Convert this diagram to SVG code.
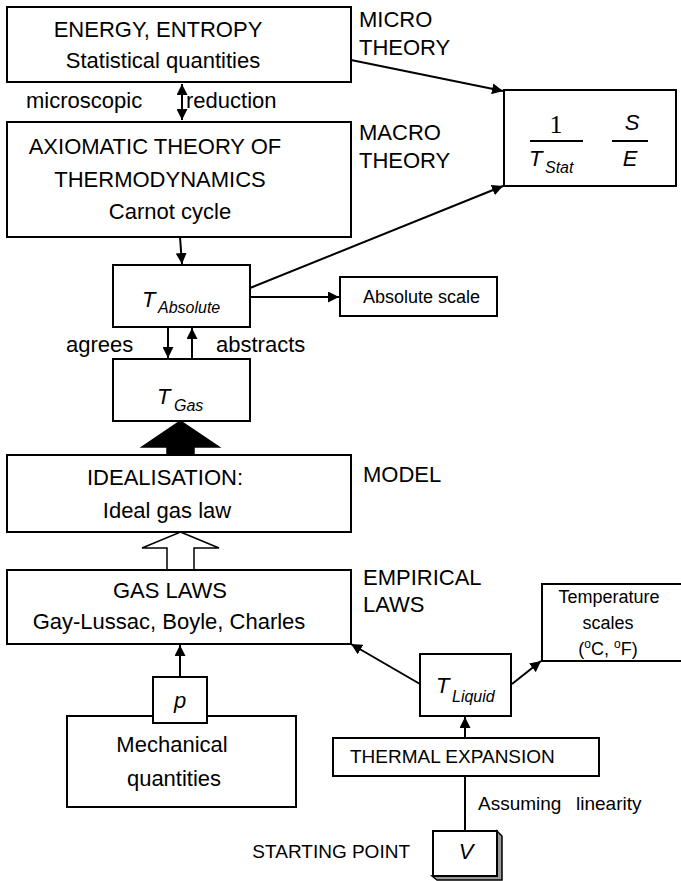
<svg xmlns="http://www.w3.org/2000/svg" width="681" height="881" viewBox="0 0 681 881">
<defs>
<style>
text{font-family:"Liberation Sans",Arial,sans-serif;font-size:22px;fill:#000}
.box{fill:#fff;stroke:#000;stroke-width:2}
.ln{fill:none;stroke:#000;stroke-width:2}
.m{text-anchor:middle}
.i{font-style:italic}
.sub{font-size:16px;font-style:italic}
.s19{font-size:19px}
.s18{font-size:18px}
.serif{font-family:"Liberation Serif","Times New Roman",serif;font-size:26px}
</style>
<marker id="ah" viewBox="0 0 10 10" refX="10" refY="5" markerWidth="11" markerHeight="11" markerUnits="userSpaceOnUse" orient="auto-start-reverse">
<path d="M0,0 L10,5 L0,10 z" fill="#000"/>
</marker>
</defs>
<rect width="681" height="881" fill="#fff"/>

<g id="connectors">
<line class="ln" x1="182" y1="84" x2="182" y2="120" marker-start="url(#ah)" marker-end="url(#ah)"/>
<line class="ln" x1="351" y1="60" x2="503" y2="91" marker-end="url(#ah)"/>
<line class="ln" x1="180" y1="237" x2="182" y2="264" marker-end="url(#ah)"/>
<line class="ln" x1="250" y1="288" x2="503" y2="186" marker-end="url(#ah)"/>
<line class="ln" x1="250" y1="297" x2="339" y2="297" marker-end="url(#ah)"/>
<line class="ln" x1="168" y1="327" x2="168" y2="358" marker-end="url(#ah)"/>
<line class="ln" x1="192" y1="359" x2="192" y2="328" marker-end="url(#ah)"/>
<polygon points="180.5,421 219,447 194,447 194,455 167,455 167,447 142,447" fill="#000" stroke="#000" stroke-width="1.5"/>
<polygon points="180.5,532 219,548 194,548 194,570 167,570 167,548 142,548" fill="#fff" stroke="#000" stroke-width="1.5"/>
<line class="ln" x1="180" y1="677" x2="180" y2="645" marker-end="url(#ah)"/>
<line class="ln" x1="420" y1="684" x2="351" y2="644" marker-end="url(#ah)"/>
<line class="ln" x1="512" y1="684" x2="541" y2="661" marker-end="url(#ah)"/>
<line class="ln" x1="465" y1="738" x2="465" y2="717" marker-end="url(#ah)"/>
<line class="ln" x1="465" y1="776" x2="465" y2="831"/>
</g>

<g id="energy">
<rect class="box" x="7" y="7" width="344" height="75"/>
<text class="m" x="158" y="37">ENERGY, ENTROPY</text>
<text class="m" x="163" y="68">Statistical quantities</text>
</g>
<g id="micro-label">
<text x="359" y="27">MICRO</text>
<text x="359" y="55">THEORY</text>
</g>
<g id="reduction-labels">
<text x="26" y="108">microscopic</text>
<text x="186" y="108">reduction</text>
</g>
<g id="axiomatic">
<rect class="box" x="7" y="122" width="344" height="115"/>
<text class="m" x="155" y="154">AXIOMATIC THEORY OF</text>
<text class="m" x="160" y="187">THERMODYNAMICS</text>
<text class="m" x="170" y="219">Carnot cycle</text>
</g>
<g id="macro-label">
<text x="359" y="140">MACRO</text>
<text x="359" y="168">THEORY</text>
</g>
<g id="stat">
<rect class="box" x="504" y="90" width="172" height="96"/>
<text class="m serif" x="556" y="133">1</text>
<line class="ln" x1="530" y1="141" x2="583" y2="141" stroke-width="1.5"/>
<text class="i" x="529" y="166">T</text>
<text class="sub" x="545" y="173">Stat</text>
<text class="m i" x="632" y="130">S</text>
<line class="ln" x1="612" y1="141" x2="648" y2="141" stroke-width="1.5"/>
<text class="m i" x="630" y="166">E</text>
</g>
<g id="t-absolute">
<rect class="box" x="113" y="265" width="137" height="62"/>
<text class="i" x="142" y="307">T</text>
<text class="sub" x="158" y="313">Absolute</text>
</g>
<g id="absolute-scale">
<rect class="box" x="340" y="277" width="157" height="39"/>
<text class="s18" x="363" y="303">Absolute scale</text>
</g>
<g id="agree-labels">
<text x="66" y="352">agrees</text>
<text x="216" y="352">abstracts</text>
</g>
<g id="t-gas">
<rect class="box" x="113" y="359" width="137" height="62"/>
<text class="i" x="157" y="404">T</text>
<text class="sub" x="174" y="411">Gas</text>
</g>
<g id="idealisation">
<rect class="box" x="7" y="455" width="344" height="77"/>
<text class="m" x="165" y="485">IDEALISATION:</text>
<text class="m" x="167" y="518">Ideal gas law</text>
</g>
<g id="model-label">
<text x="363" y="482">MODEL</text>
</g>
<g id="gas-laws">
<rect class="box" x="7" y="570" width="344" height="74"/>
<text class="m" x="170" y="598">GAS LAWS</text>
<text class="m" x="169" y="629">Gay-Lussac, Boyle, Charles</text>
</g>
<g id="empirical-label">
<text x="363" y="585">EMPIRICAL</text>
<text x="363" y="612">LAWS</text>
</g>
<g id="temperature-scales">
<rect class="box" x="542" y="584" width="160" height="77"/>
<text class="m s18" x="609" y="603">Temperature</text>
<text class="m s18" x="608" y="629">scales</text>
<text class="m s18" x="608" y="655">(<tspan font-size="12" dy="-7">o</tspan><tspan dy="7">C,  </tspan><tspan font-size="12" dy="-7">o</tspan><tspan dy="7">F)</tspan></text>
</g>
<g id="t-liquid">
<rect class="box" x="420" y="654" width="91" height="62"/>
<text class="i" x="436" y="693">T</text>
<text class="sub" x="452" y="702">Liquid</text>
</g>
<g id="mechanical">
<rect class="box" x="67" y="716" width="229" height="91"/>
<text class="m" x="172" y="752">Mechanical</text>
<text class="m" x="174" y="786">quantities</text>
</g>
<g id="p">
<rect class="box" x="153" y="677" width="54" height="46"/>
<text class="m i" x="180" y="708">p</text>
</g>
<g id="thermal-expansion">
<rect class="box" x="333" y="738" width="266" height="38"/>
<text class="s19" x="350" y="763">THERMAL EXPANSION</text>
</g>
<g id="linearity-label">
<text class="s19" x="478" y="810">Assuming</text>
<text class="s19" x="576" y="810">linearity</text>
</g>
<g id="v">
<polygon points="432,876 437,880 502,880 502,836 497,831 497,876" fill="#999" stroke="#000" stroke-width="1.5"/>
<rect class="box" x="433" y="831" width="64" height="45"/>
<text class="m i" x="466" y="859">V</text>
</g>
<g id="starting-label">
<text class="s19" x="410" y="858" text-anchor="end">STARTING POINT</text>
</g>
</svg>
